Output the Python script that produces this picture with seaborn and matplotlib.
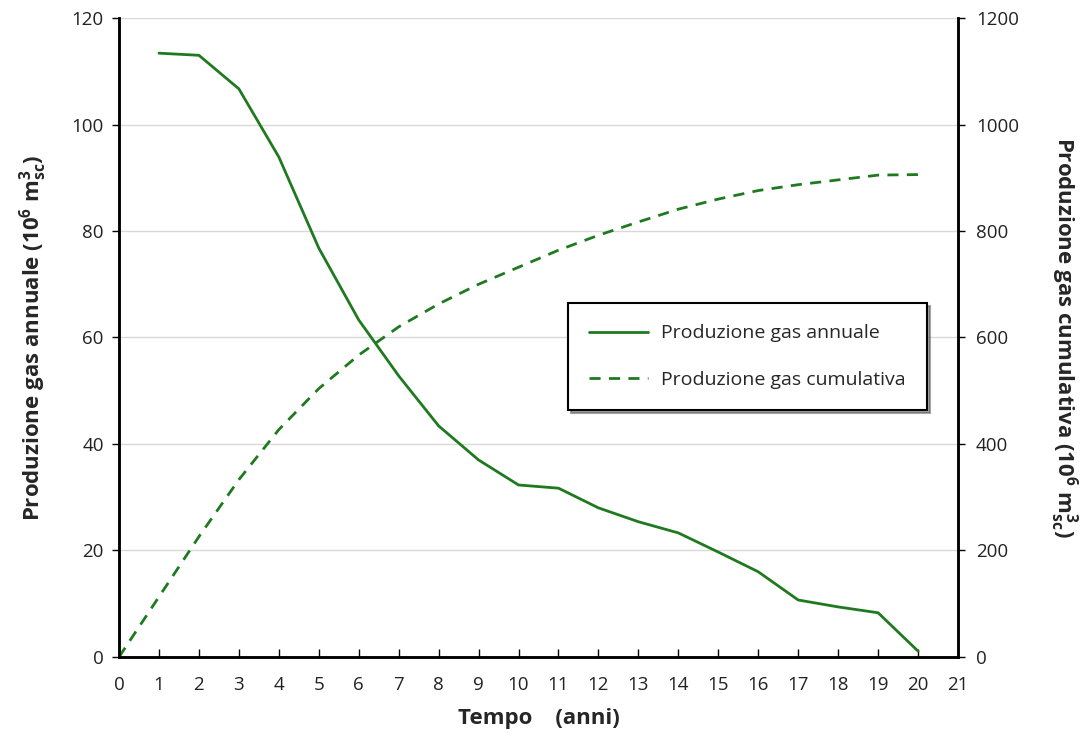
import matplotlib
matplotlib.use("Agg")
import matplotlib.pyplot as plt
import seaborn as sns
import pandas as pd

years_annual = list(range(1, 21))
annual = [113.4, 113.0, 106.7, 93.9, 76.8, 63.3, 52.8, 43.4, 37.0, 32.3,
          31.7, 28.0, 25.4, 23.3, 19.7, 16.0, 10.7, 9.4, 8.3, 1.1]
years_cum = list(range(0, 21))
cumulative = [0, 113, 226, 333, 427, 504, 567, 620, 663, 700, 732,
              764, 792, 817, 841, 860, 876, 887, 896, 905, 906]
x_ticks = list(range(0, 22))
y_left_ticks = [0, 20, 40, 60, 80, 100, 120]
y_right_ticks = [0, 200, 400, 600, 800, 1000, 1200]

sns.set_theme(style="white")
plt.rcParams['font.family'] = ['Open Sans', 'DejaVu Sans']
plt.rcParams['mathtext.default'] = 'regular'

green = '#1f7a1f'
fig = plt.figure(figsize=(10.9, 7.42), dpi=100)
ax = fig.add_axes([0.1092, 0.1146, 0.7697, 0.8611])
ax2 = ax.twinx()

df_a = pd.DataFrame({'t': years_annual, 'v': annual})
df_c = pd.DataFrame({'t': years_cum, 'v': cumulative})
sns.lineplot(data=df_a, x='t', y='v', ax=ax, color=green, lw=2.0,
             label='Produzione gas annuale', legend=False)
sns.lineplot(data=df_c, x='t', y='v', ax=ax2, color=green, lw=2.0,
             linestyle=(0, (4, 3)), label='Produzione gas cumulativa', legend=False)

ax.set_xlim(0, 21)
ax.set_ylim(0, 120)
ax2.set_ylim(0, 1200)
ax.set_xticks(x_ticks)
ax.set_yticks(y_left_ticks)
ax2.set_yticks(y_right_ticks)
ax.yaxis.grid(True, color='#d9d9d9', lw=1)
ax.set_axisbelow(True)

for a in (ax, ax2):
    a.spines['top'].set_visible(False)
    for s in ('left', 'right', 'bottom'):
        a.spines[s].set_color('black')
        a.spines[s].set_linewidth(1.8)
ax.tick_params(axis='x', direction='in', length=6, width=1, colors='black',
               labelsize=13.5, pad=14, bottom=True)
ax.tick_params(axis='y', direction='out', length=5, width=1, colors='black',
               labelsize=13.5, left=True, labelcolor='#222222', pad=6)
ax2.tick_params(axis='y', direction='out', length=5, width=1, colors='black',
                labelsize=13.5, right=True, labelcolor='#222222', pad=8)
for lab in ax.get_xticklabels():
    lab.set_color('#222222')

ax.set_xlabel('Tempo    (anni)', fontsize=16, fontweight='bold', labelpad=10)
ax.set_ylabel(r'Produzione gas annuale (10$^{6}$ m$^{3}_{sc}$)', fontsize=16,
              fontweight='bold', labelpad=16)
ax2.set_ylabel(r'Produzione gas cumulativa (10$^{6}$ m$^{3}_{sc}$)', fontsize=16,
               fontweight='bold', rotation=270, labelpad=44)

h1, l1 = ax.get_legend_handles_labels()
h2, l2 = ax2.get_legend_handles_labels()
leg = ax2.legend(h1 + h2, l1 + l2, loc='upper left', bbox_to_anchor=(0.535, 0.554),
                 borderaxespad=0,
                 frameon=True, fancybox=False, shadow=True, edgecolor='black',
                 fontsize=14, borderpad=1.1, labelspacing=1.45, handlelength=3.0,
                 handletextpad=0.7)
leg.get_frame().set_linewidth(1.5)

fig.savefig('out.png', dpi=100)
